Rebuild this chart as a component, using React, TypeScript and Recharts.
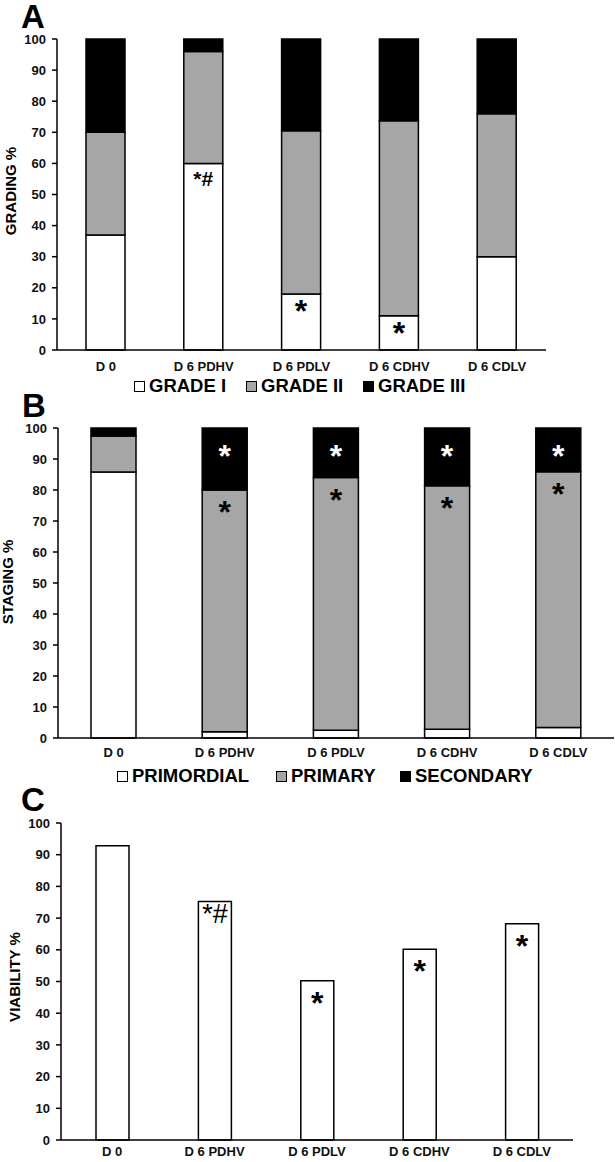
import React from 'react';
import { BarChart, Bar, XAxis, YAxis, LabelList } from 'recharts';

const groups = ['D 0', 'D 6 PDHV', 'D 6 PDLV', 'D 6 CDHV', 'D 6 CDLV'];
const yTicks = [0, 10, 20, 30, 40, 50, 60, 70, 80, 90, 100];

// A: grading
const gradeI = [37, 60, 18, 11, 30];
const gradeII = [33, 36, 52.5, 62.7, 46];
const gradeIII = [30, 4, 29.5, 26.3, 24];
const gradeMarks = ['', '*#', '*', '*', ''];

// B: staging
const primordial = [85.8, 2, 2.5, 2.8, 3.4];
const primary = [11.6, 78, 81.5, 78.6, 82.5];
const secondary = [2.6, 20, 16, 18.6, 14.1];
const primaryMarks = ['', '*', '*', '*', '*'];
const secondaryMarks = ['', '*', '*', '*', '*'];

// C: viability
const viability = [92.8, 75.2, 50.2, 60.2, 68.2];
const viabilityMarks = ['', '*#', '*', '*', '*'];

const gradingData = groups.map((name, i) => ({
  name, g1: gradeI[i], g2: gradeII[i], g3: gradeIII[i], m: gradeMarks[i],
}));
const stagingData = groups.map((name, i) => ({
  name, s1: primordial[i], s2: primary[i], s3: secondary[i], m2: primaryMarks[i], m3: secondaryMarks[i],
}));
const viabilityData = groups.map((name, i) => ({ name, v: viability[i], m: viabilityMarks[i] }));

const FONT = '"Liberation Sans", Arial, sans-serif';
const GREY = '#a6a6a6';

const tickStyle = { fill: '#111', fontSize: 13, fontWeight: 700, fontFamily: FONT };

const mark = (color: string, starSize: number, hashSize: number, starOffset: number, hashOffset: number, hashWeight = 400) =>
  (props: any) => {
    const { x, y, width, value } = props;
    if (!value) return null;
    const cx = Number(x) + Number(width) / 2;
    const hasHash = String(value).includes('#');
    return (
      <text
        x={cx}
        y={Number(y) + (hasHash ? hashOffset : starOffset)}
        textAnchor="middle"
        fill={color}
        fontSize={hasHash ? hashSize : starSize}
        fontWeight={hasHash ? hashWeight : 700}
        fontFamily={FONT}
      >
        {value}
      </text>
    );
  };

function LegendItem({ left, top, fill, label }: { left: number; top: number; fill: string; label: string }) {
  return (
    <div style={{ position: 'absolute', left, top, display: 'flex', alignItems: 'center', whiteSpace: 'nowrap' }}>
      <div style={{ width: 9, height: 9, background: fill, border: '1px solid #000', marginRight: 4 }} />
      <span style={{ fontFamily: FONT, fontWeight: 700, fontSize: 18.5, lineHeight: '20px', color: '#000' }}>{label}</span>
    </div>
  );
}

function PanelLetter({ left, top, text }: { left: number; top: number; text: string }) {
  return (
    <div style={{ position: 'absolute', left, top, fontFamily: FONT, fontWeight: 700, fontSize: 33, lineHeight: '26px' }}>
      {text}
    </div>
  );
}

function YTitle({ cx, cy, text }: { cx: number; cy: number; text: string }) {
  return (
    <div
      style={{
        position: 'absolute', left: cx, top: cy, transform: 'translate(-50%, -50%) rotate(-90deg)',
        fontFamily: FONT, fontWeight: 700, fontSize: 15, whiteSpace: 'nowrap', lineHeight: '16px',
      }}
    >
      {text}
    </div>
  );
}

const axisLine = { stroke: '#000', strokeWidth: 1.5 };

export default function App() {
  return (
    <div style={{ position: 'relative', width: 615, height: 1162, background: '#fff', overflow: 'hidden' }}>
      <style>{'body{margin:0}'}</style>

      {/* A */}
      <div style={{ position: 'absolute', left: 0, top: 0 }}>
        <BarChart width={615} height={380} data={gradingData} margin={{ top: 39, right: 69, left: 0, bottom: 0 }}>
          <XAxis dataKey="name" height={30} tickLine={false} axisLine={axisLine} tick={tickStyle} tickMargin={6} />
          <YAxis width={57} domain={[0, 100]} ticks={yTicks} interval={0} tick={tickStyle} axisLine={axisLine}
            tickLine={{ stroke: '#000', strokeWidth: 1.5 }} tickSize={5} tickMargin={6} />
          <Bar dataKey="g1" stackId="a" fill="#fff" stroke="#000" strokeWidth={1.5} barSize={39} isAnimationActive={false}>
            <LabelList dataKey="m" content={mark('#000', 32, 21, 28, 23, 700)} />
          </Bar>
          <Bar dataKey="g2" stackId="a" fill={GREY} stroke="#000" strokeWidth={1.5} barSize={39} isAnimationActive={false} />
          <Bar dataKey="g3" stackId="a" fill="#000" stroke="#000" strokeWidth={1.5} barSize={39} isAnimationActive={false} />
        </BarChart>
      </div>
      <PanelLetter left={21} top={4} text="A" />
      <YTitle cx={11} cy={191} text="GRADING %" />
      <LegendItem left={134} top={376} fill="#fff" label="GRADE I" />
      <LegendItem left={246} top={376} fill={GREY} label="GRADE II" />
      <LegendItem left={363} top={376} fill="#000" label="GRADE III" />

      {/* B */}
      <div style={{ position: 'absolute', left: 0, top: 388 }}>
        <BarChart width={615} height={380} data={stagingData} margin={{ top: 40, right: 1, left: 0, bottom: 0 }}>
          <XAxis dataKey="name" height={30} tickLine={false} axisLine={axisLine} tick={tickStyle} tickMargin={4} />
          <YAxis width={58} domain={[0, 100]} ticks={yTicks} interval={0} tick={tickStyle} axisLine={axisLine}
            tickLine={{ stroke: '#000', strokeWidth: 1.5 }} tickSize={5} tickMargin={6} />
          <Bar dataKey="s1" stackId="b" fill="#fff" stroke="#000" strokeWidth={1.5} barSize={45} isAnimationActive={false} />
          <Bar dataKey="s2" stackId="b" fill={GREY} stroke="#000" strokeWidth={1.5} barSize={45} isAnimationActive={false}>
            <LabelList dataKey="m2" content={mark('#000', 32, 20, 33, 33)} />
          </Bar>
          <Bar dataKey="s3" stackId="b" fill="#000" stroke="#000" strokeWidth={1.5} barSize={45} isAnimationActive={false}>
            <LabelList dataKey="m3" content={mark('#fff', 32, 20, 39, 39)} />
          </Bar>
        </BarChart>
      </div>
      <PanelLetter left={22} top={393} text="B" />
      <YTitle cx={8} cy={582} text="STAGING %" />
      <LegendItem left={117} top={766} fill="#fff" label="PRIMORDIAL" />
      <LegendItem left={276} top={766} fill={GREY} label="PRIMARY" />
      <LegendItem left={400} top={766} fill="#000" label="SECONDARY" />

      {/* C */}
      <div style={{ position: 'absolute', left: 0, top: 784 }}>
        <BarChart width={615} height={378} data={viabilityData} margin={{ top: 39, right: 42, left: 0, bottom: 0 }}>
          <XAxis dataKey="name" height={22} tickLine={false} axisLine={axisLine} tick={tickStyle} tickMargin={1} />
          <YAxis width={61} domain={[0, 100]} ticks={yTicks} interval={0} tick={tickStyle} axisLine={axisLine}
            tickLine={{ stroke: '#000', strokeWidth: 1.5 }} tickSize={5} tickMargin={6} />
          <Bar dataKey="v" fill="#fff" stroke="#000" strokeWidth={1.5} barSize={33} isAnimationActive={false}>
            <LabelList dataKey="m" content={mark('#000', 32, 27, 33, 21)} />
          </Bar>
        </BarChart>
      </div>
      <PanelLetter left={21} top={787} text="C" />
      <YTitle cx={15} cy={977} text="VIABILITY %" />
    </div>
  );
}
